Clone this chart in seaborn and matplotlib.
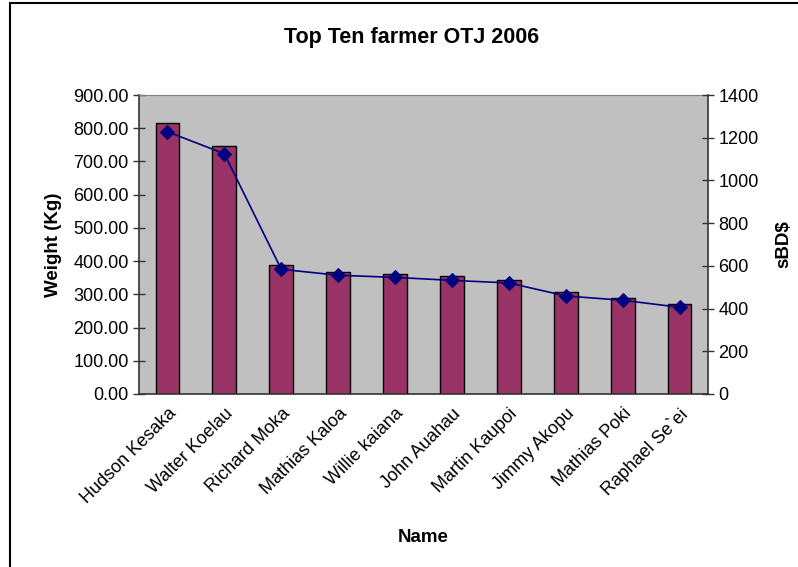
import pandas as pd
import matplotlib
matplotlib.use("Agg")
import matplotlib.pyplot as plt
import seaborn as sns
from matplotlib.patches import Rectangle
from matplotlib.ticker import FormatStrFormatter, MultipleLocator

names = ["Hudson Kesaka", "Walter Koelau", "Richard Moka", "Mathias Kaloa",
         "Willie kaiana", "John Auahau", "Martin Kaupoi", "Jimmy Akopu",
         "Mathias Poki", "Raphael Se`ei"]
weight = [817, 745, 388, 366, 362, 354, 344, 306, 290, 270]
sbd = [1228, 1125, 584, 556, 546, 532, 520, 459, 439, 406]

df = pd.DataFrame({"Name": names, "Weight": weight, "sBD": sbd})

sns.set_style("white")
plt.rcParams["font.family"] = ["Liberation Sans", "DejaVu Sans"]
plt.rcParams["text.color"] = "black"
plt.rcParams["axes.labelcolor"] = "black"
plt.rcParams["xtick.color"] = "black"
plt.rcParams["ytick.color"] = "black"

fig = plt.figure(figsize=(7.98, 5.67), dpi=100)
ax = fig.add_axes([139 / 798, 1 - 394 / 567, (708 - 139) / 798, (394 - 95) / 567])
ax.set_facecolor("#C0C0C0")

sns.barplot(data=df, x="Name", y="Weight", color="#993366", edgecolor="black",
            linewidth=1, width=0.42, saturation=1, ax=ax)
ax.set_xlim(-0.5, len(names) - 0.5)
ax.set_ylim(0, 900)
ax.yaxis.set_major_locator(MultipleLocator(100))
ax.yaxis.set_major_formatter(FormatStrFormatter("%.2f"))
ax.set_xticks([i - 0.5 for i in range(len(names) + 1)], minor=False)
ax.set_xticks(range(len(names)), minor=True)
ax.set_xticklabels([""] * (len(names) + 1))
ax.set_xticklabels(names, minor=True, rotation=45, ha="right", rotation_mode="anchor",
                   fontsize=13)
ax.tick_params(axis="x", which="minor", length=0, pad=8)
ax.tick_params(axis="x", which="major", direction="inout", length=8, width=1, color="#333333")
ax.tick_params(axis="y", direction="inout", length=8, width=1, color="#333333", labelsize=13)
ax.set_xlabel("Name", fontsize=13.5, fontweight="bold", labelpad=16)
ax.set_ylabel("Weight (Kg)", fontsize=13.5, fontweight="bold", labelpad=8)
ax.spines["top"].set_color("#808080")
for s in ["left", "bottom", "right"]:
    ax.spines[s].set_color("#333333")
    ax.spines[s].set_linewidth(1.2)

ax2 = ax.twinx()
sns.lineplot(data=df, x="Name", y="sBD", color="#000080", marker="D", markersize=7,
             markeredgecolor="#000080", linewidth=1.2, ax=ax2)
ax2.set_ylim(0, 1400)
ax2.yaxis.set_major_locator(MultipleLocator(200))
ax2.tick_params(axis="y", direction="inout", length=8, width=1, color="#333333", labelsize=13)
ax2.set_ylabel("sBD$", fontsize=13.5, fontweight="bold", labelpad=12)
ax2.set_xlim(-0.5, len(names) - 0.5)
for s in ax2.spines.values():
    s.set_visible(False)

fig.text(412 / 798, 1 - 38 / 567, "Top Ten farmer OTJ 2006", ha="center", va="center",
         fontsize=15.5, fontweight="bold")

fig.patches.append(Rectangle((10 / 798, -0.1), 1.2, 1.1 - 3 / 567, transform=fig.transFigure,
                             fill=False, edgecolor="black", linewidth=1.5))

fig.savefig("out.png", dpi=100)
